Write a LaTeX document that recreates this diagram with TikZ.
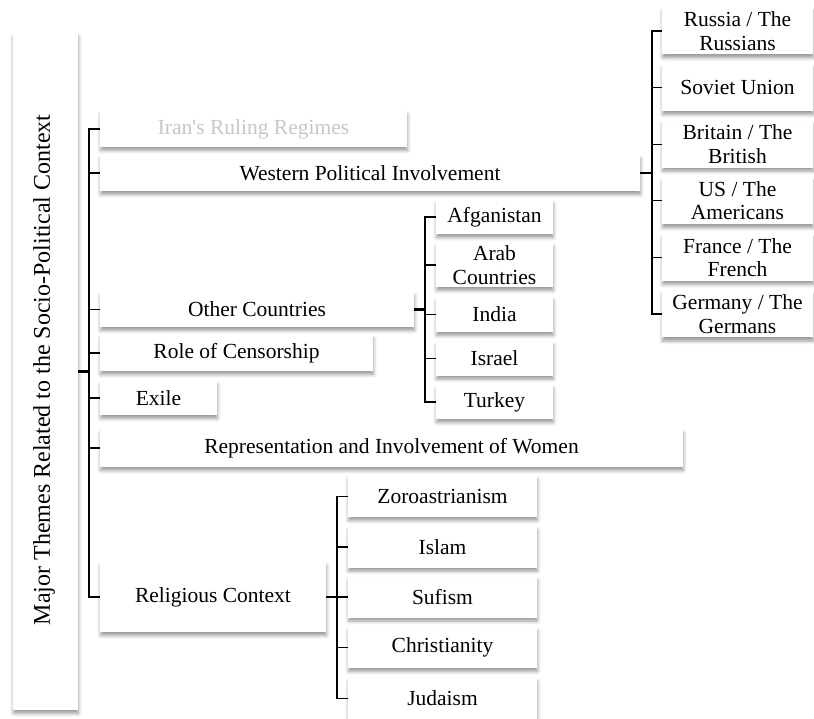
\documentclass[tikz,border=0pt]{standalone}
\usepackage{fontspec}
\setmainfont{Liberation Serif}
\usetikzlibrary{shadows.blur}
\begin{document}
\begin{tikzpicture}[x=1pt,y=-1pt,
  box/.style={fill=white, draw=none, inner sep=0pt, align=center,
    font=\fontsize{21.5}{23.5}\selectfont,
    blur shadow={shadow xshift=0.5pt, shadow yshift=-3.5pt, shadow blur radius=3.5pt, shadow opacity=40}},
  br/.style={line width=1.3pt, line cap=rect},
  stub/.style={line width=2.4pt}]
\useasboundingbox (0,0) rectangle (814,719);
% root
\node[box, minimum width=65pt, minimum height=677pt] (root) at (45.5,371.5) {};
\node[rotate=90, font=\fontsize{24}{26}\selectfont, inner sep=0pt] (roottext) at (44,370) {Major Themes Related to the Socio-Political Context};
% level 1
\node[box, minimum width=307pt, minimum height=36pt, text=black!22] (iran) at (253.5,129) {Iran\textquotesingle s Ruling Regimes};
\node[box, minimum width=540pt, minimum height=36pt] (west) at (370,173) {Western Political Involvement};
\node[box, minimum width=314pt, minimum height=35pt] (other) at (257,309.5) {Other Countries};
\node[box, minimum width=273pt, minimum height=36pt] (cens) at (236.5,353) {Role of Censorship};
\node[box, minimum width=117pt, minimum height=34pt] (exile) at (158.5,398) {Exile};
\node[box, minimum width=583pt, minimum height=38pt] (repr) at (391.5,448) {Representation and Involvement of Women};
\node[box, minimum width=226pt, minimum height=70pt] (relig) at (213,597) {Religious Context};
% western children
\node[box, minimum width=151pt, minimum height=47pt] (russia) at (737.5,31) {Russia / The\\Russians};
\node[box, minimum width=151pt, minimum height=47pt] (soviet) at (737.5,87.6) {Soviet Union};
\node[box, minimum width=151pt, minimum height=47pt] (britain) at (737.5,144.2) {Britain / The\\British};
\node[box, minimum width=151pt, minimum height=47pt] (us) at (737.5,200.8) {US / The\\Americans};
\node[box, minimum width=151pt, minimum height=47pt] (france) at (737.5,257.4) {France / The\\French};
\node[box, minimum width=151pt, minimum height=47pt] (germany) at (737.5,314) {Germany / The\\Germans};
% other children
\node[box, minimum width=117pt, minimum height=34pt] (afg) at (494.5,217) {Afganistan};
\node[box, minimum width=117pt, minimum height=44pt] (arab) at (494.5,265) {Arab\\Countries};
\node[box, minimum width=117pt, minimum height=35pt] (india) at (494.5,314.5) {India};
\node[box, minimum width=117pt, minimum height=34pt] (israel) at (494.5,358.5) {Israel};
\node[box, minimum width=117pt, minimum height=34pt] (turkey) at (494.5,402) {Turkey};
% religion children
\node[box, minimum width=189pt, minimum height=41pt] (zoro) at (442.5,496.5) {Zoroastrianism};
\node[box, minimum width=189pt, minimum height=41pt] (islam) at (442.5,547) {Islam};
\node[box, minimum width=189pt, minimum height=41pt] (sufism) at (442.5,597) {Sufism};
\node[box, minimum width=189pt, minimum height=41pt] (christ) at (442.5,647.5) {Christianity};
\node[box, minimum width=189pt, minimum height=41pt] (judaism) at (442.5,698.5) {Judaism};
% connectors level 1
\coordinate (rj) at (89,371.5);
\draw[stub] (root.east) -- (rj);
\draw[br] (iran.west) -| (rj) |- (relig.west);
\foreach \n in {west,other,cens,exile,repr} \draw[br] (\n.west) -- (rj |- \n.west);
% western
\coordinate (wj) at (652,173);
\draw[stub] (west.east) -- (wj);
\draw[br] (russia.west) -| (wj) |- (germany.west);
\foreach \n in {soviet,britain,us,france} \draw[br] (\n.west) -- (wj |- \n.west);
% other
\coordinate (oj) at (425,309.5);
\draw[stub] (other.east) -- (oj);
\draw[br] (afg.west) -| (oj) |- (turkey.west);
\foreach \n in {arab,india,israel} \draw[br] (\n.west) -- (oj |- \n.west);
% religion
\coordinate (gj) at (337,597);
\draw[stub] (relig.east) -- (gj);
\draw[br] (zoro.west) -| (gj) |- (judaism.west);
\foreach \n in {islam,sufism,christ} \draw[br] (\n.west) -- (gj |- \n.west);
\end{tikzpicture}
\end{document}
